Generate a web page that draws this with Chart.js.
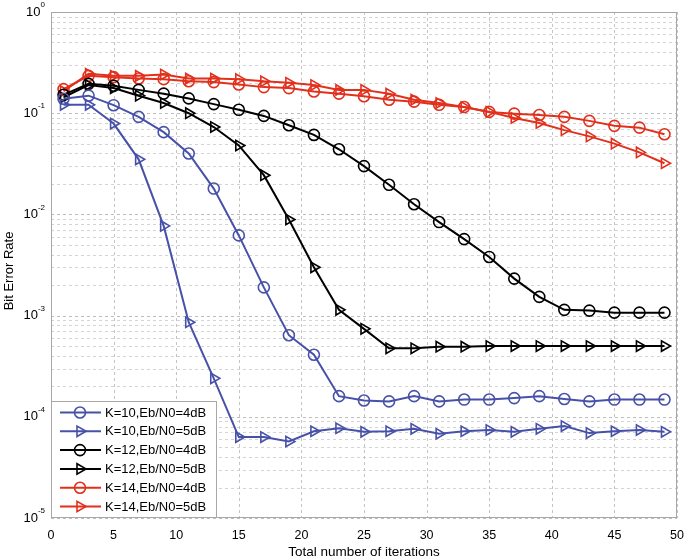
<!DOCTYPE html>
<html>
<head>
<meta charset="utf-8">
<script src="https://cdn.jsdelivr.net/npm/chart.js@4.4.1/dist/chart.umd.min.js"></script>
<style>
  html, body { margin: 0; padding: 0; background: #fff; }
  #wrap { width: 685px; height: 560px; }
</style>
</head>
<body>
<div id="wrap"><canvas id="c" width="685" height="560"></canvas></div>
<script>
// iterations (x positions of the markers)
const iterations = [1, 3, 5, 7, 9, 11, 13, 15, 17, 19, 21, 23, 25, 27, 29, 31, 33, 35, 37, 39, 41, 43, 45, 47, 49];

const xTicks = [0, 5, 10, 15, 20, 25, 30, 35, 40, 45, 50];
const yDecades = [0, -1, -2, -3, -4, -5];

const seriesLabels = ['K=10,Eb/N0=4dB', 'K=10,Eb/N0=5dB', 'K=12,Eb/N0=4dB', 'K=12,Eb/N0=5dB', 'K=14,Eb/N0=4dB', 'K=14,Eb/N0=5dB'];

const k10_4dB = [0.139, 0.149, 0.12, 0.092, 0.065, 0.040, 0.018, 0.0062, 0.0019, 6.4e-4, 4.1e-4, 1.6e-4, 1.45e-4, 1.42e-4, 1.6e-4, 1.42e-4, 1.48e-4, 1.48e-4, 1.53e-4, 1.6e-4, 1.5e-4, 1.42e-4, 1.48e-4, 1.48e-4, 1.48e-4];
const k10_5dB = [0.121, 0.121, 0.079, 0.035, 0.0077, 8.6e-4, 2.4e-4, 6.3e-5, 6.3e-5, 5.7e-5, 7.2e-5, 7.7e-5, 7.1e-5, 7.2e-5, 7.6e-5, 6.8e-5, 7.2e-5, 7.4e-5, 7.1e-5, 7.6e-5, 8.1e-5, 6.9e-5, 7.2e-5, 7.4e-5, 7.1e-5];
const k12_4dB = [0.152, 0.195, 0.187, 0.17, 0.156, 0.14, 0.123, 0.108, 0.094, 0.076, 0.061, 0.044, 0.030, 0.0196, 0.0126, 0.0084, 0.0057, 0.0038, 0.00232, 0.00153, 0.00114, 0.00112, 0.00107, 0.00107, 0.00107];
const k12_5dB = [0.143, 0.19, 0.177, 0.149, 0.126, 0.1, 0.073, 0.048, 0.0244, 0.0089, 0.003, 0.00114, 7.4e-4, 4.75e-4, 4.75e-4, 4.93e-4, 4.93e-4, 5.0e-4, 5.0e-4, 5.0e-4, 5.0e-4, 5.0e-4, 5.0e-4, 5.0e-4, 5.0e-4];
const k14_4dB = [0.173, 0.234, 0.227, 0.22, 0.217, 0.207, 0.203, 0.192, 0.181, 0.177, 0.164, 0.156, 0.147, 0.136, 0.13, 0.121, 0.115, 0.103, 0.099, 0.096, 0.092, 0.084, 0.075, 0.072, 0.062];
const k14_5dB = [0.165, 0.245, 0.234, 0.234, 0.241, 0.22, 0.22, 0.217, 0.207, 0.2, 0.19, 0.17, 0.17, 0.156, 0.136, 0.126, 0.115, 0.103, 0.0896, 0.08, 0.068, 0.059, 0.050, 0.041, 0.032];

const BLUE = '#4751a8';
const BLACK = '#000000';
const RED = '#e2301c';
const FONT = '"Liberation Sans", Arial, Helvetica, sans-serif';

function makeSet(label, values, color, shape) {
    return {
        label: label,
        data: iterations.map((x, i) => ({ x: x, y: values[i] })),
        borderColor: color,
        backgroundColor: 'rgba(0,0,0,0)',
        borderWidth: 2,
        pointStyle: shape,
        pointRotation: shape === 'triangle' ? 90 : 0,
        pointRadius: shape === 'triangle' ? 6 : 5.5,
        pointBorderWidth: 1.6,
        pointBorderColor: color,
        pointBackgroundColor: 'rgba(0,0,0,0)',
        tension: 0,
        fill: false
    };
}

const datasets = [
    makeSet(seriesLabels[0], k10_4dB, BLUE, 'circle'),
    makeSet(seriesLabels[1], k10_5dB, BLUE, 'triangle'),
    makeSet(seriesLabels[2], k12_4dB, BLACK, 'circle'),
    makeSet(seriesLabels[3], k12_5dB, BLACK, 'triangle'),
    makeSet(seriesLabels[4], k14_4dB, RED, 'circle'),
    makeSet(seriesLabels[5], k14_5dB, RED, 'triangle')
];

// y grid values 1..9 x 10^k
function logTicks() {
    const out = [];
    for (let e = -5; e <= 0; e++) {
        for (let m = 1; m <= 9; m++) {
            if (e === 0 && m > 1) break;
            out.push({ value: m * Math.pow(10, e), major: m === 1 });
        }
    }
    return out;
}

function drawMarker(ctx, shape, x, y, r) {
    ctx.beginPath();
    if (shape === 'circle') {
        ctx.arc(x, y, r, 0, Math.PI * 2);
    } else {
        // triangle pointing right
        const s = r;
        ctx.moveTo(x + s, y);
        ctx.lineTo(x - s * 0.5, y - s * 0.866);
        ctx.lineTo(x - s * 0.5, y + s * 0.866);
        ctx.closePath();
    }
    ctx.stroke();
}

// dashed grid drawn under the lines
const gridPlugin = {
    id: 'dashGrid',
    beforeDatasetsDraw(chart) {
        const ctx = chart.ctx;
        const a = chart.chartArea;
        const xs = chart.scales.x, ys = chart.scales.y;
        ctx.save();
        ctx.lineWidth = 1;
        ctx.setLineDash([3, 3]);
        logTicks().forEach(t => {
            const py = Math.round(ys.getPixelForValue(t.value)) + 0.5;
            ctx.strokeStyle = t.major ? '#bdbdbd' : '#d4d4d4';
            ctx.beginPath();
            ctx.moveTo(a.left, py);
            ctx.lineTo(a.right, py);
            ctx.stroke();
        });
        ctx.strokeStyle = '#c4c4c4';
        xTicks.forEach(v => {
            const px = Math.round(xs.getPixelForValue(v)) + 0.5;
            ctx.beginPath();
            ctx.moveTo(px, a.top);
            ctx.lineTo(px, a.bottom);
            ctx.stroke();
        });
        ctx.restore();
    }
};

const decorPlugin = {
    id: 'decor',
    afterDraw(chart) {
        const ctx = chart.ctx;
        const a = chart.chartArea;
        const yScale = chart.scales.y;
        ctx.save();

        // frame
        ctx.strokeStyle = '#a8a8a8';
        ctx.lineWidth = 1;
        ctx.setLineDash([]);
        ctx.strokeRect(Math.round(a.left) + 0.5, Math.round(a.top) + 0.5, Math.round(a.right - a.left) - 1, Math.round(a.bottom - a.top) - 1);

        // y tick labels 10^k
        ctx.fillStyle = '#000';
        yDecades.forEach(e => {
            const py = yScale.getPixelForValue(Math.pow(10, e));
            ctx.textAlign = 'right';
            ctx.textBaseline = 'middle';
            const sup = String(e);
            ctx.font = '8px ' + FONT;
            const supW = ctx.measureText(sup).width;
            const right = a.left - 6;
            ctx.fillText(sup, right, py - 7);
            ctx.font = '13px ' + FONT;
            ctx.fillText('10', right - supW, py);
        });

        // y axis title
        ctx.save();
        ctx.translate(9, 271);
        ctx.rotate(-Math.PI / 2);
        ctx.font = '13px ' + FONT;
        ctx.textAlign = 'center';
        ctx.textBaseline = 'middle';
        ctx.fillText('Bit Error Rate', 0, 0);
        ctx.restore();

        // legend box in lower-left corner
        const bx = Math.round(a.left), bw = 166, bh = 117;
        const by = Math.round(a.bottom) - bh;
        ctx.fillStyle = '#fff';
        ctx.fillRect(bx, by, bw, bh);
        ctx.strokeStyle = '#a8a8a8';
        ctx.lineWidth = 1;
        ctx.strokeRect(bx + 0.5, by + 0.5, bw - 1, bh - 1);
        chart.data.datasets.forEach((ds, i) => {
            const cy = by + 11.5 + i * 18.8;
            ctx.strokeStyle = ds.borderColor;
            ctx.lineWidth = 2;
            ctx.beginPath();
            ctx.moveTo(bx + 9, cy);
            ctx.lineTo(bx + 50, cy);
            ctx.stroke();
            ctx.lineWidth = 1.6;
            drawMarker(ctx, ds.pointStyle, bx + 29, cy, ds.pointStyle === 'triangle' ? 6 : 5.5);
            ctx.fillStyle = '#000';
            ctx.font = '13px ' + FONT;
            ctx.textAlign = 'left';
            ctx.textBaseline = 'middle';
            ctx.fillText(ds.label, bx + 54, cy + 0.5);
        });
        ctx.restore();
    }
};

const ctx = document.getElementById('c').getContext('2d');
const chart = new Chart(ctx, {
    type: 'line',
    data: { datasets: datasets },
    options: {
        responsive: false,
        animation: false,
        events: [],
        layout: { padding: { left: 0, right: 8, top: 12, bottom: 0 } },
        plugins: {
            legend: { display: false },
            tooltip: { enabled: false }
        },
        scales: {
            x: {
                type: 'linear',
                min: 0,
                max: 50,
                afterBuildTicks: s => { s.ticks = xTicks.map(v => ({ value: v })); },
                afterFit: s => { s.height = 42; s.paddingLeft = 0; s.paddingRight = 0; },
                grid: { display: false, drawTicks: false },
                border: { display: false },
                ticks: {
                    color: '#000',
                    font: { family: FONT, size: 12.5 },
                    padding: 10,
                    maxRotation: 0
                },
                title: {
                    display: true,
                    text: 'Total number of iterations',
                    color: '#000',
                    font: { family: FONT, size: 13.5 },
                    padding: { top: 2, bottom: 0 }
                }
            },
            y: {
                type: 'logarithmic',
                min: 1e-5,
                max: 1,
                afterFit: s => { s.width = 51; s.paddingTop = 0; s.paddingBottom = 0; },
                grid: { display: false, drawTicks: false },
                border: { display: false },
                ticks: { display: false }
            }
        }
    },
    plugins: [gridPlugin, decorPlugin]
});
</script>
</body>
</html>
